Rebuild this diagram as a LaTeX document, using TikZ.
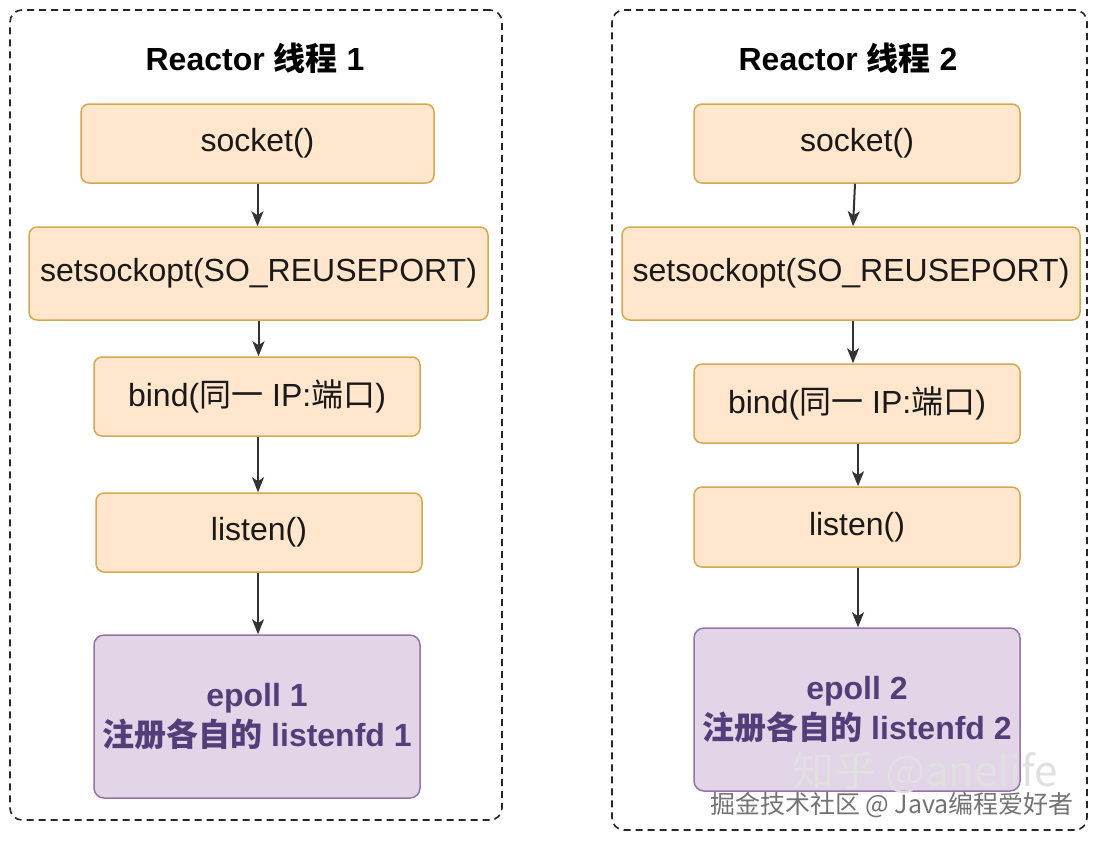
\documentclass[tikz,border=0pt]{standalone}
\usepackage{fontspec}
\setmainfont{Liberation Sans}
\newfontfamily\cjk{Noto Sans CJK SC}
\usetikzlibrary{arrows.meta}
\definecolor{callfill}{HTML}{FFE6CC}
\definecolor{callline}{HTML}{D6A84F}
\definecolor{epfill}{HTML}{E1D5E7}
\definecolor{epline}{HTML}{9673A6}
\definecolor{eptext}{HTML}{523F7A}
\tikzset{callbox/.style={draw=callline, fill=callfill, rounded corners=8pt, line width=1.5pt, inner sep=2pt, text=black!90, font=\fontsize{32}{38}\selectfont}}
\tikzset{epollbox/.style={draw=epline, fill=epfill, rounded corners=10pt, line width=1.5pt, inner sep=2pt, align=center, text=eptext, font=\bfseries\fontsize{32}{40}\selectfont}}
\tikzset{threadframe/.style={draw=black!85, dash pattern=on 7pt off 5pt, rounded corners=12pt, line width=1.6pt}}
\tikzset{flow/.style={-{Stealth[length=15pt,width=12pt,inset=4pt]}, draw=black!80, line width=2pt}}
\tikzset{headline/.style={font=\bfseries\fontsize{32}{38}\selectfont}}
\begin{document}
\begin{tikzpicture}[x=1pt, y=-1pt]
    \useasboundingbox (0,0) rectangle (1099,844);
    \node[threadframe, minimum width=492pt, minimum height=810pt] (frame1) at (256,415) {};
    \node[threadframe, minimum width=475pt, minimum height=820pt] (frame2) at (849.5,420) {};
    \node[headline] (title1) at (255,58) {Reactor {\cjk 线程} 1};
    \node[headline] (title2) at (848,58) {Reactor {\cjk 线程} 2};
    \node[callbox, minimum width=353pt, minimum height=79pt] (sock1) at (257.5,143.5) {socket()};
    \node[callbox, minimum width=459pt, minimum height=93pt] (opt1) at (258.5,273.5) {setsockopt(SO\_REUSEPORT)};
    \node[callbox, minimum width=326pt, minimum height=79pt] (bind1) at (257,396.5) {bind({\cjk 同一} IP:{\cjk 端口})};
    \node[callbox, minimum width=326pt, minimum height=79pt] (listen1) at (259,532.5) {listen()};
    \node[epollbox, minimum width=326pt, minimum height=163pt] (epoll1) at (257,716.5) {epoll 1\\{\cjk 注册各自的} listenfd 1};
    \node[callbox, minimum width=326pt, minimum height=79pt] (sock2) at (857,143.5) {socket()};
    \node[callbox, minimum width=458pt, minimum height=93pt] (opt2) at (851,273.5) {setsockopt(SO\_REUSEPORT)};
    \node[callbox, minimum width=326pt, minimum height=79pt] (bind2) at (857,403.5) {bind({\cjk 同一} IP:{\cjk 端口})};
    \node[callbox, minimum width=326pt, minimum height=80pt] (listen2) at (857,527) {listen()};
    \node[epollbox, minimum width=326pt, minimum height=163pt] (epoll2) at (857,709.5) {epoll 2\\{\cjk 注册各自的} listenfd 2};
    \draw[flow] (sock1.south) -- (sock1.south |- opt1.north);
    \draw[flow] (opt1.south) -- (opt1.south |- bind1.north);
    \draw[flow] ([xshift=1pt]bind1.south) -- ([xshift=1pt]bind1.south |- listen1.north);
    \draw[flow] ([xshift=-1pt]listen1.south) -- ([xshift=-1pt]listen1.south |- epoll1.north);
    \draw[flow] ([xshift=-2pt]sock2.south) -- ([xshift=2pt]opt2.north);
    \draw[flow] ([xshift=2pt]opt2.south) -- ([xshift=-4pt]bind2.north);
    \draw[flow] ([xshift=1pt]bind2.south) -- ([xshift=1pt]listen2.north);
    \draw[flow] ([xshift=1pt]listen2.south) -- ([xshift=1pt]epoll2.north);
    \node[text=black!12, font=\cjk\fontsize{42}{46}\selectfont] (mark1) at (925,772) {知乎 @anelife};
    \node[text=black!55, font=\cjk\fontsize{25}{30}\selectfont] (mark2) at (892,805) {掘金技术社区 @ Java编程爱好者};
\end{tikzpicture}
\end{document}
